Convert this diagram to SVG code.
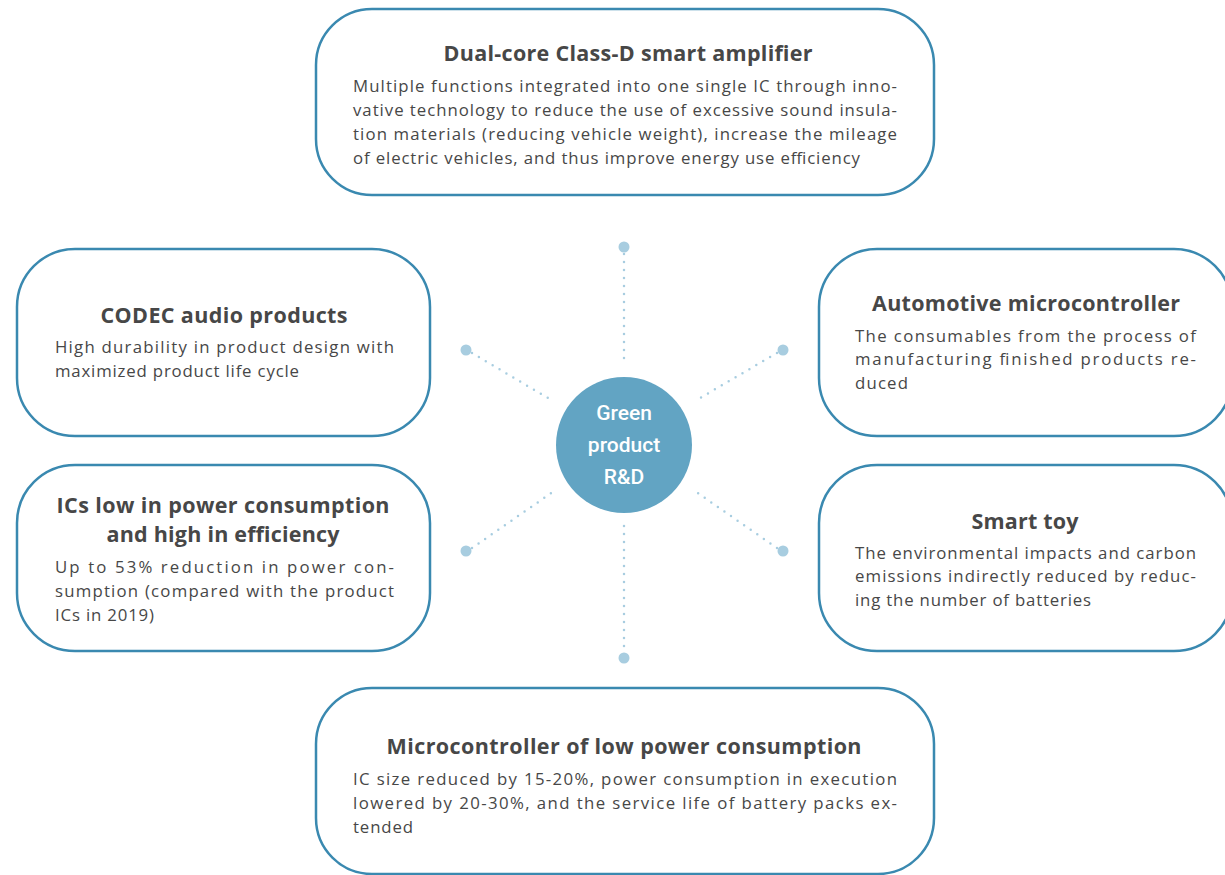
<svg xmlns="http://www.w3.org/2000/svg" width="1225" height="875" viewBox="0 0 1225 875">
<style>
.box{fill:#ffffff;stroke:#3a89b0;stroke-width:2.5}
.title{font-family:"Open Sans","Liberation Sans",sans-serif;font-weight:bold;font-size:21.5px;fill:#474747;text-anchor:middle}
.body{font-family:"Open Sans","Liberation Sans",sans-serif;font-size:16.8px;fill:#474747}
.hub{fill:#62a4c3}
.hubtext{font-family:Roboto,"Liberation Sans",sans-serif;font-weight:500;font-size:21px;fill:#ffffff;text-anchor:middle}
.dot{fill:#a8cde0}
.link{stroke:#a8cde0;stroke-width:2.5;stroke-linecap:round;stroke-dasharray:0 8;fill:none}
</style>
<rect width="1225" height="875" fill="#ffffff"/>
<g id="connectors">
<line class="link" x1="624" y1="254" x2="624" y2="363"/>
<line class="link" x1="624" y1="526" x2="624" y2="652"/>
<line class="link" x1="472" y1="353" x2="553" y2="401"/>
<line class="link" x1="777" y1="353" x2="695" y2="401"/>
<line class="link" x1="472" y1="548" x2="557" y2="489"/>
<line class="link" x1="777" y1="548" x2="692" y2="489"/>
<circle class="dot" cx="624" cy="247" r="5.5"/>
<circle class="dot" cx="624" cy="658" r="5.5"/>
<circle class="dot" cx="466" cy="350" r="5.5"/>
<circle class="dot" cx="783" cy="350" r="5.5"/>
<circle class="dot" cx="466" cy="551" r="5.5"/>
<circle class="dot" cx="783" cy="551" r="5.5"/>
</g>
<g id="hub">
<circle class="hub" cx="624" cy="445" r="68"/>
<text class="hubtext" x="624" y="420">Green</text>
<text class="hubtext" x="624" y="452">product</text>
<text class="hubtext" x="624" y="484">R&amp;D</text>
</g>
<g id="node-top">
<rect class="box" x="316" y="9" width="618" height="186" rx="56"/>
<text class="title" x="628" y="61" textLength="369">Dual-core Class-D smart amplifier</text>
<text class="body" x="353" y="92" textLength="544">Multiple functions integrated into one single IC through inno-</text>
<text class="body" x="353" y="116" textLength="544">vative technology to reduce the use of excessive sound insula-</text>
<text class="body" x="353" y="140" textLength="544">tion materials (reducing vehicle weight), increase the mileage</text>
<text class="body" x="353" y="164" textLength="507">of electric vehicles, and thus improve energy use efficiency</text>
</g>
<g id="node-codec">
<rect class="box" x="17" y="249" width="413" height="187" rx="58"/>
<text class="title" x="224" y="323" textLength="247">CODEC audio products</text>
<text class="body" x="55" y="353" textLength="339">High durability in product design with</text>
<text class="body" x="55" y="377" textLength="244">maximized product life cycle</text>
</g>
<g id="node-ics">
<rect class="box" x="17" y="465" width="413" height="186" rx="58"/>
<text class="title" x="223" y="513" textLength="333">ICs low in power consumption</text>
<text class="title" x="223" y="542" textLength="233">and high in efficiency</text>
<text class="body" x="55" y="573" textLength="339">Up to 53% reduction in power con-</text>
<text class="body" x="55" y="597" textLength="339">sumption (compared with the product</text>
<text class="body" x="55" y="621" textLength="99">ICs in 2019)</text>
</g>
<g id="node-automotive">
<rect class="box" x="819" y="249" width="413" height="187" rx="58"/>
<text class="title" x="1026" y="311" textLength="308">Automotive microcontroller</text>
<text class="body" x="855" y="342" textLength="341">The consumables from the process of</text>
<text class="body" x="855" y="365" textLength="341">manufacturing finished products re-</text>
<text class="body" x="855" y="389" textLength="53">duced</text>
</g>
<g id="node-toy">
<rect class="box" x="819" y="465" width="413" height="186" rx="58"/>
<text class="title" x="1025" y="529" textLength="107">Smart toy</text>
<text class="body" x="855" y="559" textLength="341">The environmental impacts and carbon</text>
<text class="body" x="855" y="582" textLength="341">emissions indirectly reduced by reduc-</text>
<text class="body" x="855" y="606" textLength="236">ing the number of batteries</text>
</g>
<g id="node-bottom">
<rect class="box" x="316" y="688" width="618" height="186" rx="56"/>
<text class="title" x="624" y="754" textLength="475">Microcontroller of low power consumption</text>
<text class="body" x="353" y="785" textLength="544">IC size reduced by 15-20%, power consumption in execution</text>
<text class="body" x="353" y="809" textLength="544">lowered by 20-30%, and the service life of battery packs ex-</text>
<text class="body" x="353" y="833" textLength="60">tended</text>
</g>
</svg>
